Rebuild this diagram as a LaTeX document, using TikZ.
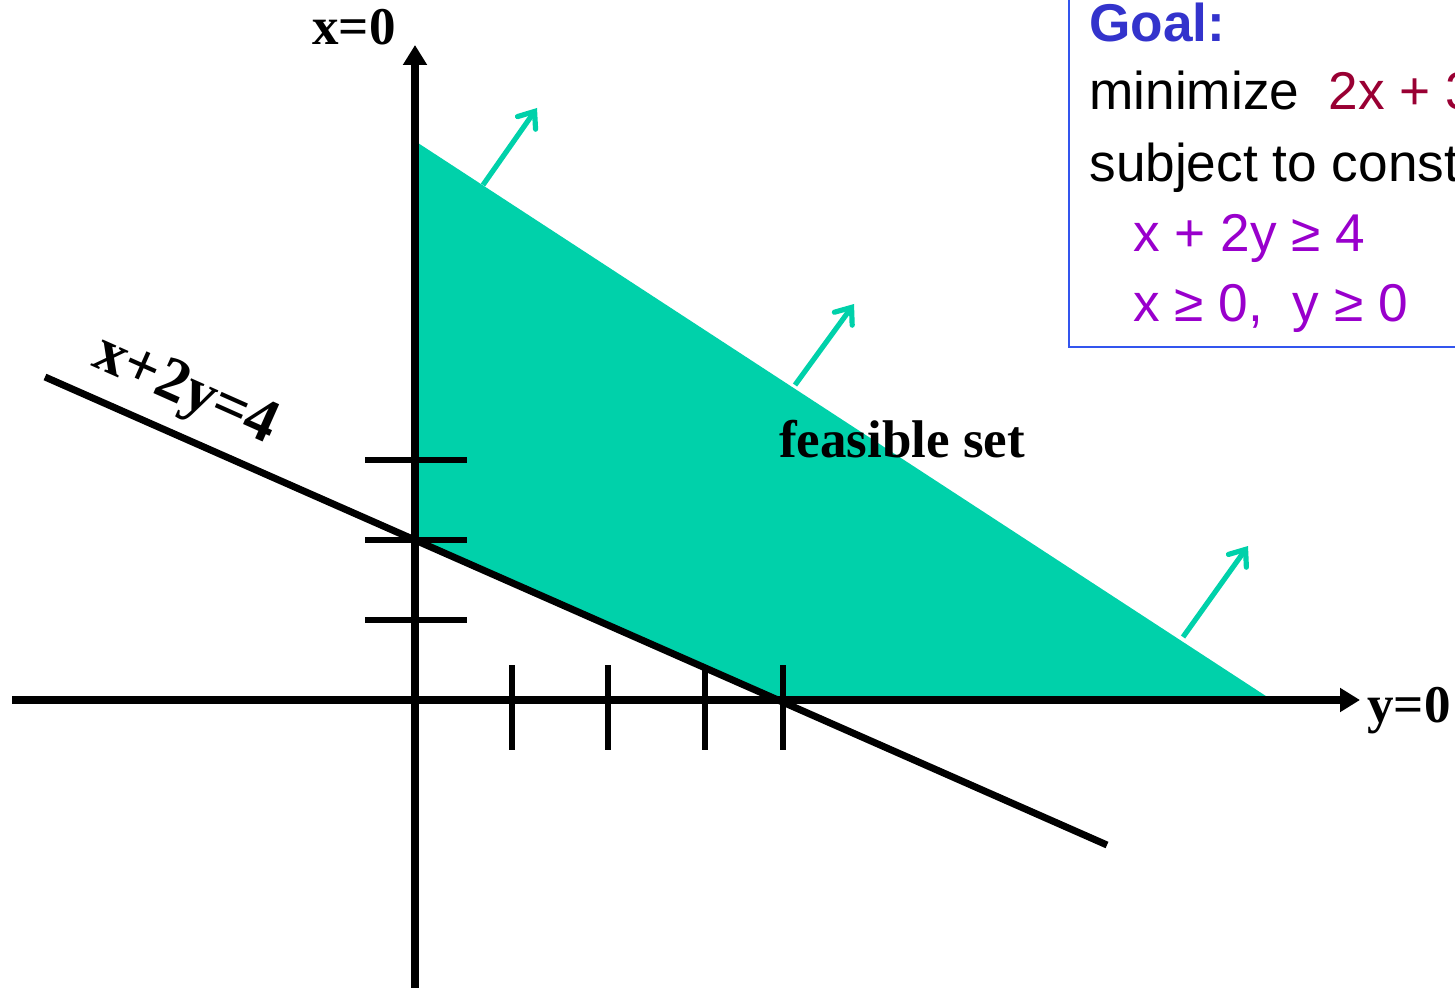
\documentclass[tikz,border=0pt]{standalone}
\usepackage{fontspec}
\setmainfont{Liberation Serif}
\newfontfamily\arialfont{Liberation Sans}
\usetikzlibrary{arrows.meta}
\definecolor{feas}{RGB}{0,209,170}
\definecolor{goalblue}{RGB}{51,51,204}
\definecolor{objred}{RGB}{153,0,51}
\definecolor{conpurple}{RGB}{153,0,204}
\definecolor{boxblue}{RGB}{51,85,238}
\begin{document}
\begin{tikzpicture}[x=0.5pt,y=-0.5pt,
  axis/.style={line width=3.7pt,-{Triangle[length=10pt,width=11.5pt]}},
  thick line/.style={line width=3.5pt},
  tickmark/.style={line width=3pt},
  normarrow/.style={draw=feas,line width=2.6pt,-{Straight Barb[length=7pt,width=11pt,line cap=round]}},
  lab/.style={font=\fontsize{26.5}{30}\selectfont\bfseries,inner sep=0pt,anchor=base},
  goaltxt/.style={font=\arialfont\fontsize{26.6}{30}\selectfont,inner sep=0pt,anchor=base west}]
\useasboundingbox (0,0) rectangle (1455,988);
\clip (0,0) rectangle (1455,988);
% feasible region
\coordinate (P1) at (418,143);
\coordinate (P2) at (418,540);
\coordinate (P3) at (783,700);
\coordinate (P4) at (1272,700);
\fill[feas] (P1) -- (P2) -- (P3) -- (P4) -- cycle;
% normal arrows
\coordinate (N1s) at (483,185); \coordinate (N1e) at (537,108);
\coordinate (N2s) at (795,385); \coordinate (N2e) at (854,304);
\coordinate (N3s) at (1183,637); \coordinate (N3e) at (1248,546);
\draw[normarrow] (N1s) -- (N1e);
\draw[normarrow] (N2s) -- (N2e);
\draw[normarrow] (N3s) -- (N3e);
% axes
\coordinate (Vb) at (415,995);
\coordinate (Vt) at (415,45);
\coordinate (Hl) at (12,700);
\coordinate (Hr) at (1360,700);
\draw[axis] (Vb) -- (Vt);
\draw[axis] (Hl) -- (Hr);
% constraint line
\coordinate (L1) at (45,377);
\coordinate (L2) at (1107,845);
\draw[thick line] (L1) -- (L2);
% ticks
\foreach \yy in {460,540,620} \draw[tickmark] (365,\yy) -- (467,\yy);
\foreach \xx in {512,608,705,783} \draw[tickmark] (\xx,665) -- (\xx,750);
% labels
\node[lab] (xlab) at (354,45) {x=0};
\node[lab] (ylab) at (1409,722) {y=0};
\node[lab] (fs) at (902,458) {feasible set};
\node[lab,font=\fontsize{31}{34}\selectfont\bfseries,anchor=center,rotate=-24] (llab) at (185,392) {x+2y=4};
% goal box
\coordinate (B1) at (1069,-10);
\coordinate (B2) at (1069,347);
\coordinate (B3) at (1470,347);
\draw[boxblue,line width=1pt] (B1) -- (B2) -- (B3);
\node[goaltxt,font=\arialfont\fontsize{26.6}{30}\selectfont\bfseries,text=goalblue] (g1) at (1089,42) {Goal:};
\node[goaltxt] (g2) at (1089,110) {minimize~~{\color{objred}2x + 3y}};
\node[goaltxt] (g3) at (1089,182) {subject to constraints};
\node[goaltxt,text=conpurple] (g4) at (1133,252) {x + 2y ≥ 4};
\node[goaltxt,text=conpurple] (g5) at (1133,322) {x ≥ 0,~~y ≥ 0};
\end{tikzpicture}
\end{document}
